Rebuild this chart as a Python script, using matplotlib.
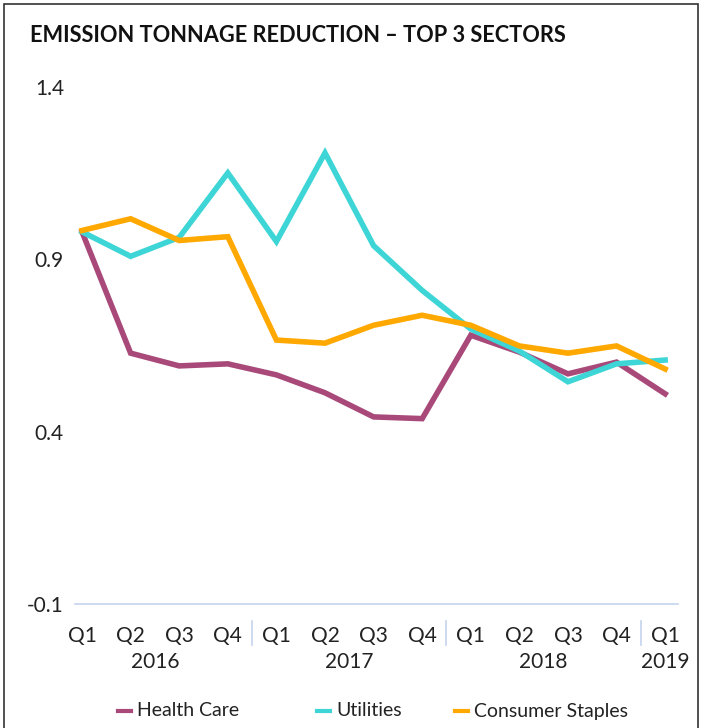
import matplotlib
matplotlib.use('Agg')
import matplotlib.pyplot as plt
from matplotlib.patches import Rectangle
from matplotlib.lines import Line2D

quarters = ['Q1', 'Q2', 'Q3', 'Q4', 'Q1', 'Q2', 'Q3', 'Q4', 'Q1', 'Q2', 'Q3', 'Q4', 'Q1']
years = ['2016', '2017', '2018', '2019']
year_pos = [1.5, 5.5, 9.5, 12]
separators = [3.5, 7.5, 11.5]

health_care = [0.98, 0.628, 0.591, 0.597, 0.565, 0.513, 0.443, 0.438, 0.68, 0.631, 0.568, 0.602, 0.51]
utilities = [0.98, 0.909, 0.964, 1.151, 0.952, 1.209, 0.94, 0.81, 0.698, 0.634, 0.545, 0.597, 0.608]
consumer_staples = [0.984, 1.018, 0.955, 0.966, 0.666, 0.657, 0.709, 0.738, 0.709, 0.649, 0.628, 0.649, 0.582]

series = [('Health Care', health_care, '#A8497A'),
          ('Utilities', utilities, '#3DD5D5'),
          ('Consumer Staples', consumer_staples, '#FFA800')]

plt.rcParams['font.family'] = ['Lato', 'DejaVu Sans']

fig = plt.figure(figsize=(7.08, 7.28), dpi=100)
ax = fig.add_axes([0.106, 0.1703, 0.852, 0.710])

x = range(len(quarters))
for name, vals, col in series:
    ax.plot(x, vals, color=col, lw=4, solid_joinstyle='miter', label=name)

ax.set_xlim(-0.144, 12.27)
ax.set_ylim(-0.1, 1.4)
ax.set_yticks([-0.1, 0.4, 0.9, 1.4])
ax.set_yticklabels(['-0.1', '0.4', '0.9', '1.4'], fontsize=15, color='#222222')
ax.tick_params(axis='y', length=0, pad=8)
ax.set_xticks(list(x))
ax.set_xticklabels(quarters, fontsize=15, color='#222222')
ax.tick_params(axis='x', length=0, pad=16)
for s in ax.spines.values():
    s.set_visible(False)
ax.axhline(-0.1, color='#C5D3EE', lw=1.2, clip_on=False)

trans = ax.get_xaxis_transform()
for sx in separators:
    ax.plot([sx, sx], [-0.033, -0.08], transform=trans, color='#C5D3EE', lw=1.2, clip_on=False)
for yr, yp in zip(years, year_pos):
    ax.text(yp, -0.112, yr, transform=trans, ha='center', va='center', fontsize=15, color='#222222')

# legend laid out by hand, entries are not evenly spaced in the original
leg_x = [118, 317, 455]
leg_y = 1 - 711 / 728
for (name, _, col), lx in zip(series, leg_x):
    fig.add_artist(Line2D([lx / 708, (lx + 13) / 708], [leg_y, leg_y], color=col, lw=3,
                          transform=fig.transFigure))
    fig.text((lx + 19) / 708, leg_y, name, fontsize=14, color='#222222', va='center', ha='left')

fig.text(30 / 708, 1 - 36 / 728, 'EMISSION TONNAGE REDUCTION – TOP 3 SECTORS',
         fontsize=15.7, fontweight='bold', color='#111111', va='center', ha='left')

fig.patches.append(Rectangle((4 / 708, -0.05), 694 / 708, 1.05 - 4 / 728, transform=fig.transFigure,
                             fill=False, edgecolor='#333333', lw=1.2, clip_on=False))

fig.savefig('out.png', dpi=100)
